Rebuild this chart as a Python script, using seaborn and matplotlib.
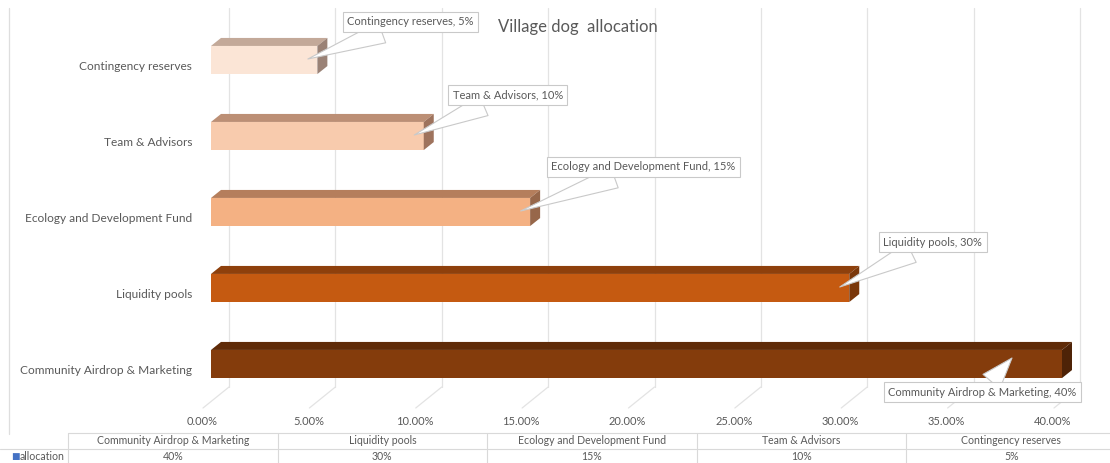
import numpy as np
import pandas as pd
import seaborn as sns
import matplotlib.pyplot as plt
from matplotlib.patches import Polygon
from matplotlib.lines import Line2D
from matplotlib.transforms import ScaledTranslation

# ---------------- data ----------------
categories = ["Community Airdrop & Marketing", "Liquidity pools",
              "Ecology and Development Fund", "Team & Advisors",
              "Contingency reserves"]
allocation = [0.40, 0.30, 0.15, 0.10, 0.05]
table_values = ["40%", "30%", "15%", "10%", "5%"]
x_ticks = [0.00, 0.05, 0.10, 0.15, 0.20, 0.25, 0.30, 0.35, 0.40]
x_tick_labels = ["0.00%", "5.00%", "10.00%", "15.00%", "20.00%",
                 "25.00%", "30.00%", "35.00%", "40.00%"]
series_name = "allocation"
title = "Village dog  allocation"

front_colors = {"Community Airdrop & Marketing": "#843C0C",
                "Liquidity pools": "#C55A11",
                "Ecology and Development Fund": "#F4B183",
                "Team & Advisors": "#F8CBAD",
                "Contingency reserves": "#FBE5D6"}
top_colors = {"Community Airdrop & Marketing": "#5F2B08",
              "Liquidity pools": "#8E400C",
              "Ecology and Development Fund": "#B57E5C",
              "Team & Advisors": "#BC8F75",
              "Contingency reserves": "#C3A999"}
side_colors = {"Community Airdrop & Marketing": "#4E2307",
               "Liquidity pools": "#7A370A",
               "Ecology and Development Fund": "#97674A",
               "Team & Advisors": "#9E735D",
               "Contingency reserves": "#9A8276"}
# callout placement (pixels from pointer tip to box corner), per category
callout_offsets = {"Contingency reserves": (35, 27, "left", "bottom"),
                   "Team & Advisors": (34, 30, "left", "bottom"),
                   "Ecology and Development Fund": (26, 34, "left", "bottom"),
                   "Liquidity pools": (39, 35, "left", "bottom"),
                   "Community Airdrop & Marketing": (69, -24, "right", "top")}

# ---------------- style ----------------
sns.set_theme(style="white")
plt.rcParams['font.family'] = ['Lato', 'DejaVu Sans']
TXT = "#595959"
GRID = "#e3e3e3"

W, H = 1110, 463
fig = plt.figure(figsize=(W / 100, H / 100), dpi=100)


def fx(px):
    return px / W


def fy(py):
    return 1 - py / H


XMAX = 0.42
PX_PER_UNIT = 2127.5
ax_left, ax_top, ax_bottom = 211, 8, 408
ax = fig.add_axes([fx(ax_left), fy(ax_bottom), XMAX * PX_PER_UNIT / W,
                   (ax_bottom - ax_top) / H])

# plot order: top to bottom
cats_plot = categories[::-1]
vals_plot = allocation[::-1]
df = pd.DataFrame({"category": cats_plot, "value": vals_plot})
sns.barplot(data=df, y="category", x="value", hue="category",
            palette=front_colors, orient="h", width=0.37, ax=ax,
            legend=False, saturation=1, edgecolor="none", zorder=3)

Y0, Y1 = (ax_top - 60) / 76, (ax_bottom - 60) / 76
ax.set_xlim(0, XMAX)
ax.set_ylim(Y1, Y0)
ux = 1 / PX_PER_UNIT           # data units per pixel in x
uy = (Y1 - Y0) / (ax_bottom - ax_top)  # data units per pixel in y (down)

for s in ax.spines.values():
    s.set_visible(False)
ax.grid(False)
ax.set_xlabel("")
ax.set_ylabel("")

# back-wall gridlines and floor diagonals
floor_back = (387 - 60) / 76
for t in x_ticks:
    ax.plot([t + 18 * ux, t + 18 * ux], [Y0, floor_back], color=GRID,
            lw=0.9, zorder=0, clip_on=False)
    ax.plot([t + 18 * ux, t - 8 * ux], [floor_back, Y1], color=GRID,
            lw=0.9, zorder=0, clip_on=False)

# 3D faces of bars
half = 0.37 / 2
ddx, ddy = 10 * ux, -8 * uy
for i, (c, v) in enumerate(zip(cats_plot, vals_plot)):
    top, bot = i - half, i + half
    ax.add_patch(Polygon([(0, top), (v, top), (v + ddx, top + ddy),
                          (ddx, top + ddy)], closed=True,
                         facecolor=top_colors[c], edgecolor="none", zorder=2.9))
    ax.add_patch(Polygon([(v, top), (v + ddx, top + ddy),
                          (v + ddx, bot + ddy), (v, bot)], closed=True,
                         facecolor=side_colors[c], edgecolor="none", zorder=3.1))

# ticks
ax.set_xticks(x_ticks, x_tick_labels)
ax.set_yticks(range(len(cats_plot)), cats_plot)
ax.tick_params(axis="x", length=0, pad=6, labelsize=8, labelcolor=TXT)
ax.tick_params(axis="y", length=0, pad=13.5, labelsize=8.6, labelcolor=TXT)
for lab in ax.get_xticklabels():
    lab.set_transform(lab.get_transform() +
                      ScaledTranslation(-9 / 100, 0, fig.dpi_scale_trans))
for lab in ax.get_yticklabels():
    lab.set_transform(lab.get_transform() +
                      ScaledTranslation(0, -6 / 100, fig.dpi_scale_trans))

# data labels with wedge callouts
bbox = dict(boxstyle="square,pad=0.4", fc="white", ec="#c9c9c9", lw=0.8)
PADPX = 4.5
for i, (c, v) in enumerate(zip(cats_plot, vals_plot)):
    label = f"{c}, {int(round(v * 100))}%"
    dxp, dyp, ha, va = callout_offsets[c]
    if va == "bottom":
        xy = (v - 9.5 * ux, i - 1 * uy)
        off = ((dxp + PADPX) * 0.72, (dyp + PADPX) * 0.72)
    else:
        xy = (v - 50 * ux, i - 6 * uy)
        off = ((dxp - PADPX) * 0.72, (dyp - PADPX) * 0.72)
    ax.annotate(label, xy=xy, xytext=off, textcoords="offset points",
                ha=ha, va=va, fontsize=8, color=TXT, bbox=bbox, zorder=6,
                annotation_clip=False,
                arrowprops=dict(arrowstyle="wedge,tail_width=2.0,shrink_factor=0.5",
                                fc="white", ec="#c9c9c9", lw=0.8,
                                shrinkA=0, shrinkB=0))

# title
fig.text(fx(578), fy(27), title, ha="center", va="center",
         fontsize=12, color=TXT)

# chart-area left border
fig.add_artist(Line2D([fx(9), fx(9)], [fy(8), fy(434)], color="#dedede",
                      lw=0.9, transform=fig.transFigure))

# data table
tbl_top, tbl_mid, tbl_bot = 433, 449, 463
col_left, col_w = 68, 209.6
lc = "#d9d9d9"
fig.add_artist(Line2D([fx(col_left), 1], [fy(tbl_top), fy(tbl_top)],
                      color=lc, lw=0.8, transform=fig.transFigure))
fig.add_artist(Line2D([0, 1], [fy(tbl_mid), fy(tbl_mid)],
                      color=lc, lw=0.8, transform=fig.transFigure))
for k in range(len(categories)):
    xl = col_left + k * col_w
    fig.add_artist(Line2D([fx(xl), fx(xl)], [fy(tbl_top), fy(tbl_bot)],
                          color=lc, lw=0.8, transform=fig.transFigure))
    xc = xl + col_w / 2
    fig.text(fx(xc), fy(441), categories[k], ha="center", va="center",
             fontsize=7.6, color=TXT)
    fig.text(fx(xc), fy(457), table_values[k], ha="center", va="center",
             fontsize=7.6, color=TXT)
fig.text(fx(11), fy(457), "■", ha="left", va="center", fontsize=6.5,
         color="#4472C4", family=["DejaVu Sans"])
fig.text(fx(20), fy(457), series_name, ha="left", va="center",
         fontsize=7.6, color=TXT)

fig.savefig("out.png", dpi=100)
